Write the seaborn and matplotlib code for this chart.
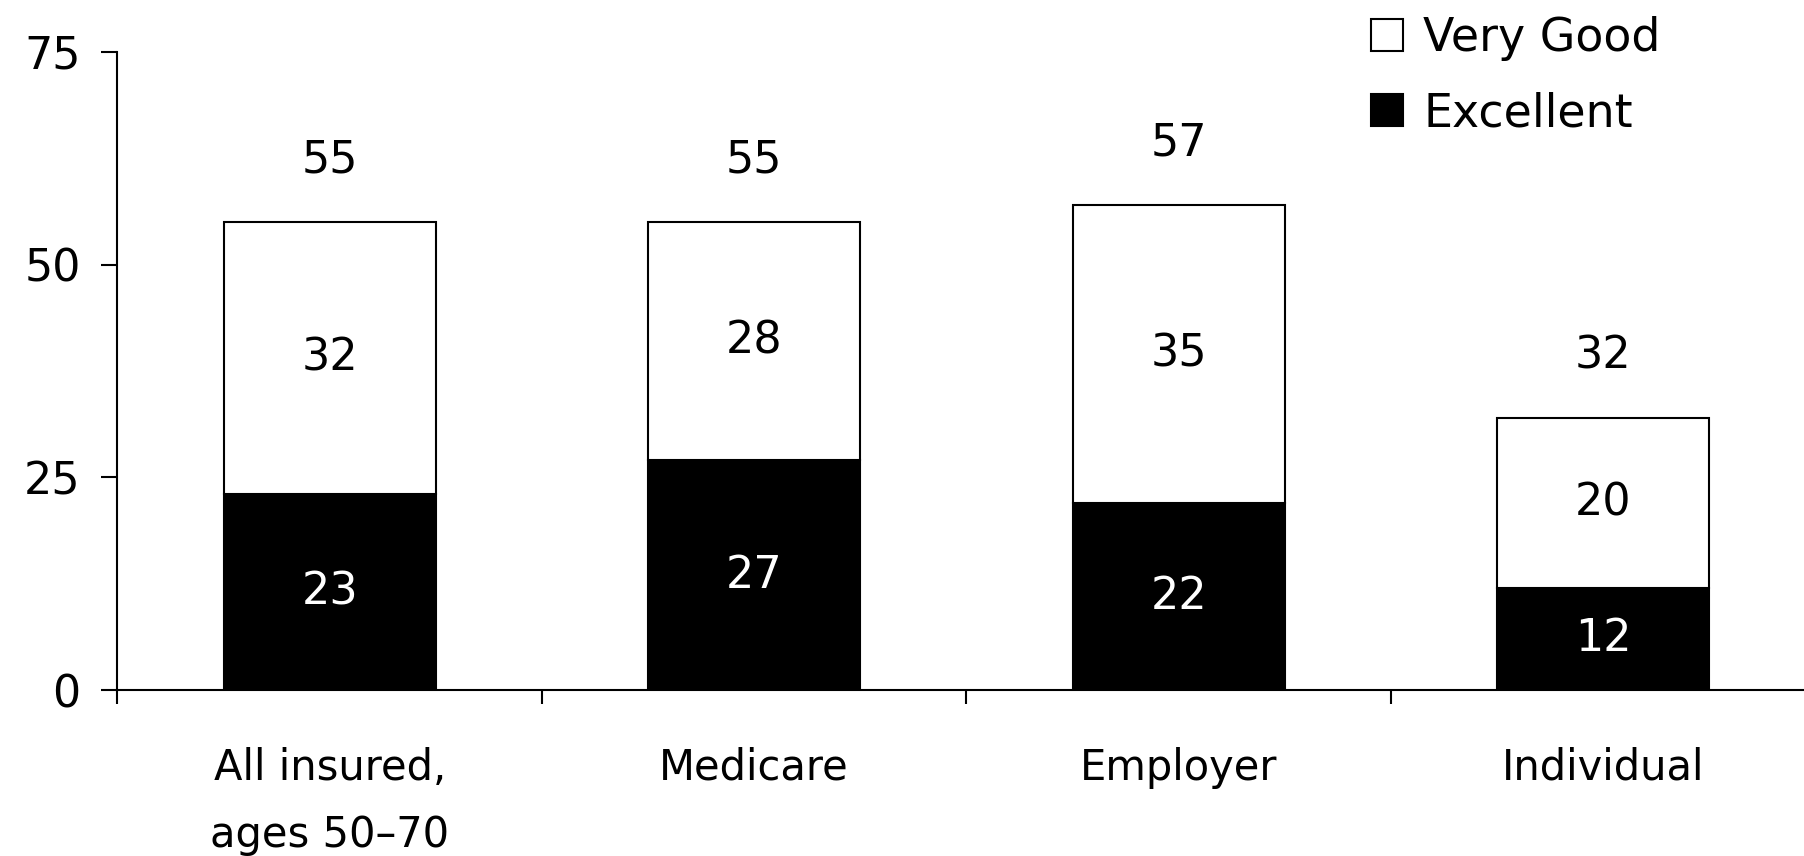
import pandas as pd
import seaborn as sns
import matplotlib.pyplot as plt

# values (percent)
categories = ['All insured,\nages 50\u201370', 'Medicare', 'Employer', 'Individual']
excellent = [23, 27, 22, 12]
very_good = [32, 28, 35, 20]
totals = [55, 55, 57, 32]
y_ticks = [0, 25, 50, 75]

df = pd.DataFrame({'group': categories, 'Excellent': excellent, 'Very Good': very_good})

sns.set_style('white')
plt.rcParams['font.family'] = ['DejaVu Sans']
plt.rcParams['text.color'] = 'black'
plt.rcParams['xtick.color'] = 'black'
plt.rcParams['ytick.color'] = 'black'
plt.rcParams['xtick.labelcolor'] = 'black'
plt.rcParams['ytick.labelcolor'] = 'black'

fig = plt.figure(figsize=(18.04, 8.56), dpi=100)
ax = fig.add_axes([0.0651, 0.1939, 0.9413, 0.7456])

# stacked bars: black bottom, white top with black outline
sns.barplot(data=df, x='group', y='Excellent', color='black', width=0.5,
            edgecolor='black', linewidth=1.5, saturation=1, ax=ax, label='Excellent')
sns.barplot(data=df, x='group', y='Very Good', bottom=df['Excellent'], color='white',
            width=0.5, edgecolor='black', linewidth=1.5, saturation=1, ax=ax, label='Very Good')
if ax.get_legend() is not None:
    ax.get_legend().remove()

ax.bar_label(ax.containers[0], labels=[str(v) for v in excellent], label_type='center',
             color='white', fontsize=32)
ax.bar_label(ax.containers[1], labels=[str(v) for v in very_good], label_type='center',
             color='black', fontsize=32)
for i, t in enumerate(totals):
    ax.text(i, t + 7.3, str(t), ha='center', va='center', fontsize=32, color='black')

ax.set_xlim(-0.5, 3.5)
ax.set_ylim(0, 75)
ax.set_yticks(y_ticks)
ax.set_yticklabels([str(v) for v in y_ticks])
ax.tick_params(axis='y', labelsize=32, length=11.5, width=1.5, pad=15, left=True, direction='out')

# tick marks sit between groups, labels under the bars
ax.set_xticks([-0.5, 0.5, 1.5, 2.5])
ax.set_xticklabels([])
ax.set_xticks(range(len(categories)), minor=True)
ax.set_xticklabels(categories, minor=True, fontsize=30, linespacing=1.75)
ax.tick_params(axis='x', which='major', length=10, width=1.5, bottom=True, direction='out')
ax.tick_params(axis='x', which='minor', length=0, pad=41)

ax.set_xlabel('')
ax.set_ylabel('')
sns.despine(ax=ax, top=True, right=True)
for s in ['left', 'bottom']:
    ax.spines[s].set_linewidth(1.5)
    ax.spines[s].set_color('black')

handles, labels = ax.get_legend_handles_labels()
lookup = dict(zip(labels, handles))
fig.legend([lookup['Very Good'], lookup['Excellent']], ['Very Good', 'Excellent'],
           loc='upper left', bbox_to_anchor=(0.742, 1.019), frameon=False,
           fontsize=33, handlelength=0.7, handleheight=0.7, handletextpad=0.45,
           labelspacing=0.66, borderpad=0.2, labelcolor='black')

fig.savefig('out.png', dpi=100)
